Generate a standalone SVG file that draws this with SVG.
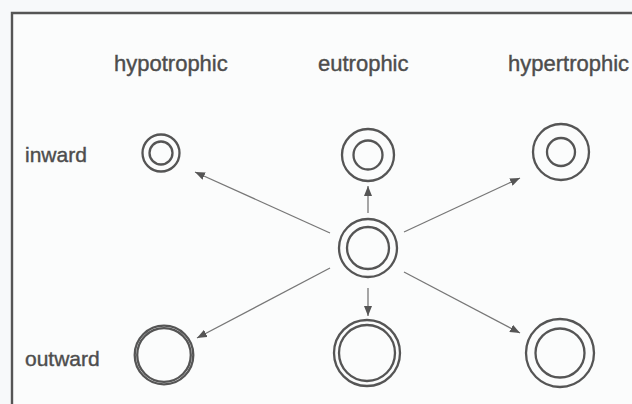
<svg xmlns="http://www.w3.org/2000/svg" width="632" height="404" viewBox="0 0 632 404">
  <style>
    .lbl { font-family: "Liberation Sans", Arial, sans-serif; font-size: 22px; fill: #4d4d4d; stroke: #4d4d4d; stroke-width: 0.4; }
    .row { font-family: "Liberation Sans", Arial, sans-serif; font-size: 21px; fill: #4d4d4d; stroke: #4d4d4d; stroke-width: 0.4; }
    .ring { fill: none; stroke: #555; stroke-width: 2.3; }
    .edge { fill: none; stroke: #777; stroke-width: 1.3; marker-end: url(#arr); }
    .frame { fill: none; stroke: #555; stroke-width: 2.4; }
  </style>
  <defs>
    <marker id="arr" viewBox="0 0 10 8" refX="10" refY="4" markerWidth="10" markerHeight="8" markerUnits="userSpaceOnUse" orient="auto">
      <path d="M0,0 L10,4 L0,8 z" fill="#555"/>
    </marker>
  </defs>
  <rect x="0" y="0" width="632" height="404" fill="#f7f9fa"/>
  <rect x="12" y="13" width="640" height="420" fill="#fbfcfc"/>
  <path class="frame" d="M12,404 L12,13 L632,13"/>

  <g id="header-labels">
    <text class="lbl" x="114" y="71">hypotrophic</text>
    <text class="lbl" x="318" y="71">eutrophic</text>
    <text class="lbl" x="508" y="71">hypertrophic</text>
  </g>
  <g id="row-labels">
    <text class="row" x="25" y="162">inward</text>
    <text class="row" x="25" y="366">outward</text>
  </g>

  <g id="connectors">
    <line class="edge" x1="330" y1="233" x2="195" y2="172"/>
    <line class="edge" x1="368" y1="213" x2="368" y2="186"/>
    <line class="edge" x1="404" y1="232" x2="520" y2="178"/>
    <line class="edge" x1="330" y1="268" x2="197" y2="338"/>
    <line class="edge" x1="368" y1="288" x2="368" y2="316"/>
    <line class="edge" x1="404" y1="272" x2="520" y2="333"/>
  </g>

  <g id="center">
    <circle class="ring" cx="368" cy="248" r="29"/>
    <circle class="ring" cx="368" cy="248" r="21"/>
  </g>
  <g id="inward-hypotrophic">
    <circle class="ring" cx="161" cy="153" r="18.5"/>
    <circle class="ring" cx="161" cy="153" r="11.5"/>
  </g>
  <g id="inward-eutrophic">
    <circle class="ring" cx="368" cy="155" r="26"/>
    <circle class="ring" cx="368" cy="155" r="14.5"/>
  </g>
  <g id="inward-hypertrophic">
    <circle class="ring" cx="561" cy="152" r="28"/>
    <circle class="ring" cx="561" cy="152" r="14"/>
  </g>
  <g id="outward-hypotrophic">
    <circle class="ring" cx="164" cy="355" r="29.3"/>
    <circle class="ring" cx="164" cy="355" r="26.8"/>
  </g>
  <g id="outward-eutrophic">
    <circle class="ring" cx="367" cy="353" r="33"/>
    <circle class="ring" cx="367" cy="353" r="28"/>
  </g>
  <g id="outward-hypertrophic">
    <circle class="ring" cx="560" cy="353" r="34"/>
    <circle class="ring" cx="560" cy="353" r="24.5"/>
  </g>
</svg>
